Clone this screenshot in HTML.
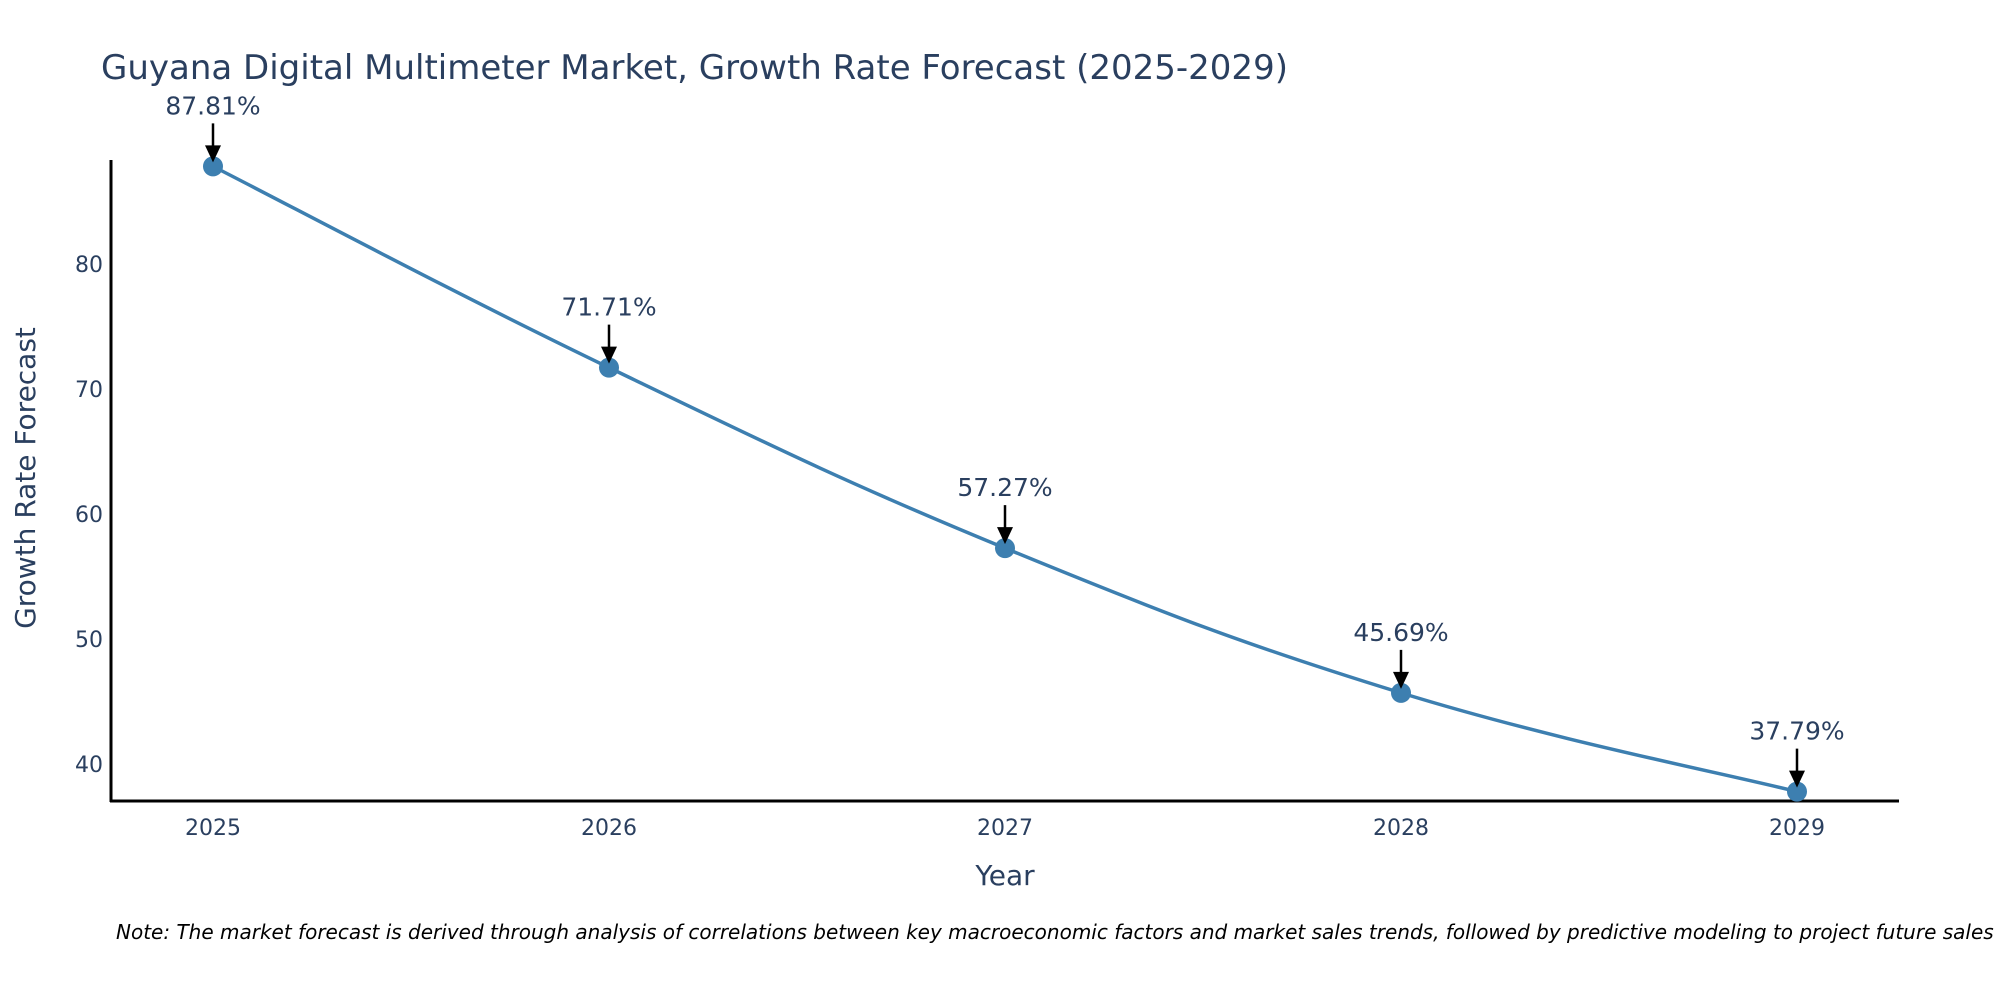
<!DOCTYPE html>
<html><head><meta charset="utf-8"><style>
html,body{margin:0;padding:0;background:#fff;}
svg{display:block;font-family:"DejaVu Sans","Liberation Sans",sans-serif;}
</style></head><body>
<svg id="chart" width="2000" height="1000" viewBox="0 0 2000 1000">
<text x="101" y="79" font-size="34" fill="#2a3f5f">Guyana Digital Multimeter Market, Growth Rate Forecast (2025-2029)</text>
<g id="yticks"></g>
<g id="xticks"></g>
<line x1="111" y1="160" x2="111" y2="802" stroke="#000" stroke-width="3"/>
<line x1="110" y1="801" x2="1899" y2="801" stroke="#000" stroke-width="3"/>
<path id="series" fill="none" stroke="#3d7fb0" stroke-width="3.5"/>
<g id="points"></g>
<g id="annos"></g>
<text x="1005" y="885" font-size="28" fill="#2a3f5f" text-anchor="middle">Year</text>
<text transform="translate(35,478) rotate(-90)" font-size="28" fill="#2a3f5f" text-anchor="middle">Growth Rate Forecast</text>
<text x="116" y="939" font-size="20" font-style="italic" fill="#000">Note: The market forecast is derived through analysis of correlations between key macroeconomic factors and market sales trends, followed by predictive modeling to project future sales</text>
</svg>
<script>
const years = [2025, 2026, 2027, 2028, 2029];
const values = [87.81, 71.71, 57.27, 45.69, 37.79];
const labels = ["87.81%", "71.71%", "57.27%", "45.69%", "37.79%"];
const yTicks = [40, 50, 60, 70, 80];

const NS = "http://www.w3.org/2000/svg";
function xPos(yr){ return 213 + (yr - 2025) * (1797 - 213) / 4; }
function yPos(v){ return 764 - (v - 40) * 12.5; }
function mk(tag, attrs, parent){ const e=document.createElementNS(NS,tag); for(const k in attrs) e.setAttribute(k,attrs[k]); parent.appendChild(e); return e; }

const yg=document.getElementById('yticks');
yTicks.forEach(t=>{
  const e=mk('text',{x:103,y:yPos(t)+8,'font-size':22,fill:'#2a3f5f','text-anchor':'end'},yg);
  e.textContent=t;
  
  
});
const xg=document.getElementById('xticks');
years.forEach(yr=>{
  const e=mk('text',{x:xPos(yr),y:835,'font-size':22,fill:'#2a3f5f','text-anchor':'middle'},xg);
  e.textContent=yr;
  
  
});

const pts=years.map((yr,i)=>[xPos(yr),yPos(values[i])]);
let d='M'+pts[0][0]+','+pts[0][1];
for(let i=0;i<pts.length-1;i++){
  const p0=pts[Math.max(i-1,0)],p1=pts[i],p2=pts[i+1],p3=pts[Math.min(i+2,pts.length-1)];
  const t=0.2;
  d+=' C'+(p1[0]+(p2[0]-p0[0])*t)+','+(p1[1]+(p2[1]-p0[1])*t)+' '+(p2[0]-(p3[0]-p1[0])*t)+','+(p2[1]-(p3[1]-p1[1])*t)+' '+p2[0]+','+p2[1];
}
document.getElementById('series').setAttribute('d',d);

const pg=document.getElementById('points'), ag=document.getElementById('annos');
pts.forEach((p,i)=>{
  const c=mk('circle',{cx:p[0],cy:p[1],r:10,fill:'#3d7fb0'},pg);
  
  
  const ln=mk('line',{x1:p[0],y1:p[1]-43,x2:p[0],y2:p[1]-18,stroke:'#000','stroke-width':2.5},ag);
  
  
  const hd=mk('polygon',{points:(p[0]-8)+','+(p[1]-21)+' '+(p[0]+8)+','+(p[1]-21)+' '+p[0]+','+(p[1]-4),fill:'#000'},ag);
  
  
  const tx=mk('text',{x:p[0],y:p[1]-52,'font-size':25,fill:'#2a3f5f','text-anchor':'middle'},ag);
  tx.textContent=labels[i];
  
  
});
</script>
</body></html>
